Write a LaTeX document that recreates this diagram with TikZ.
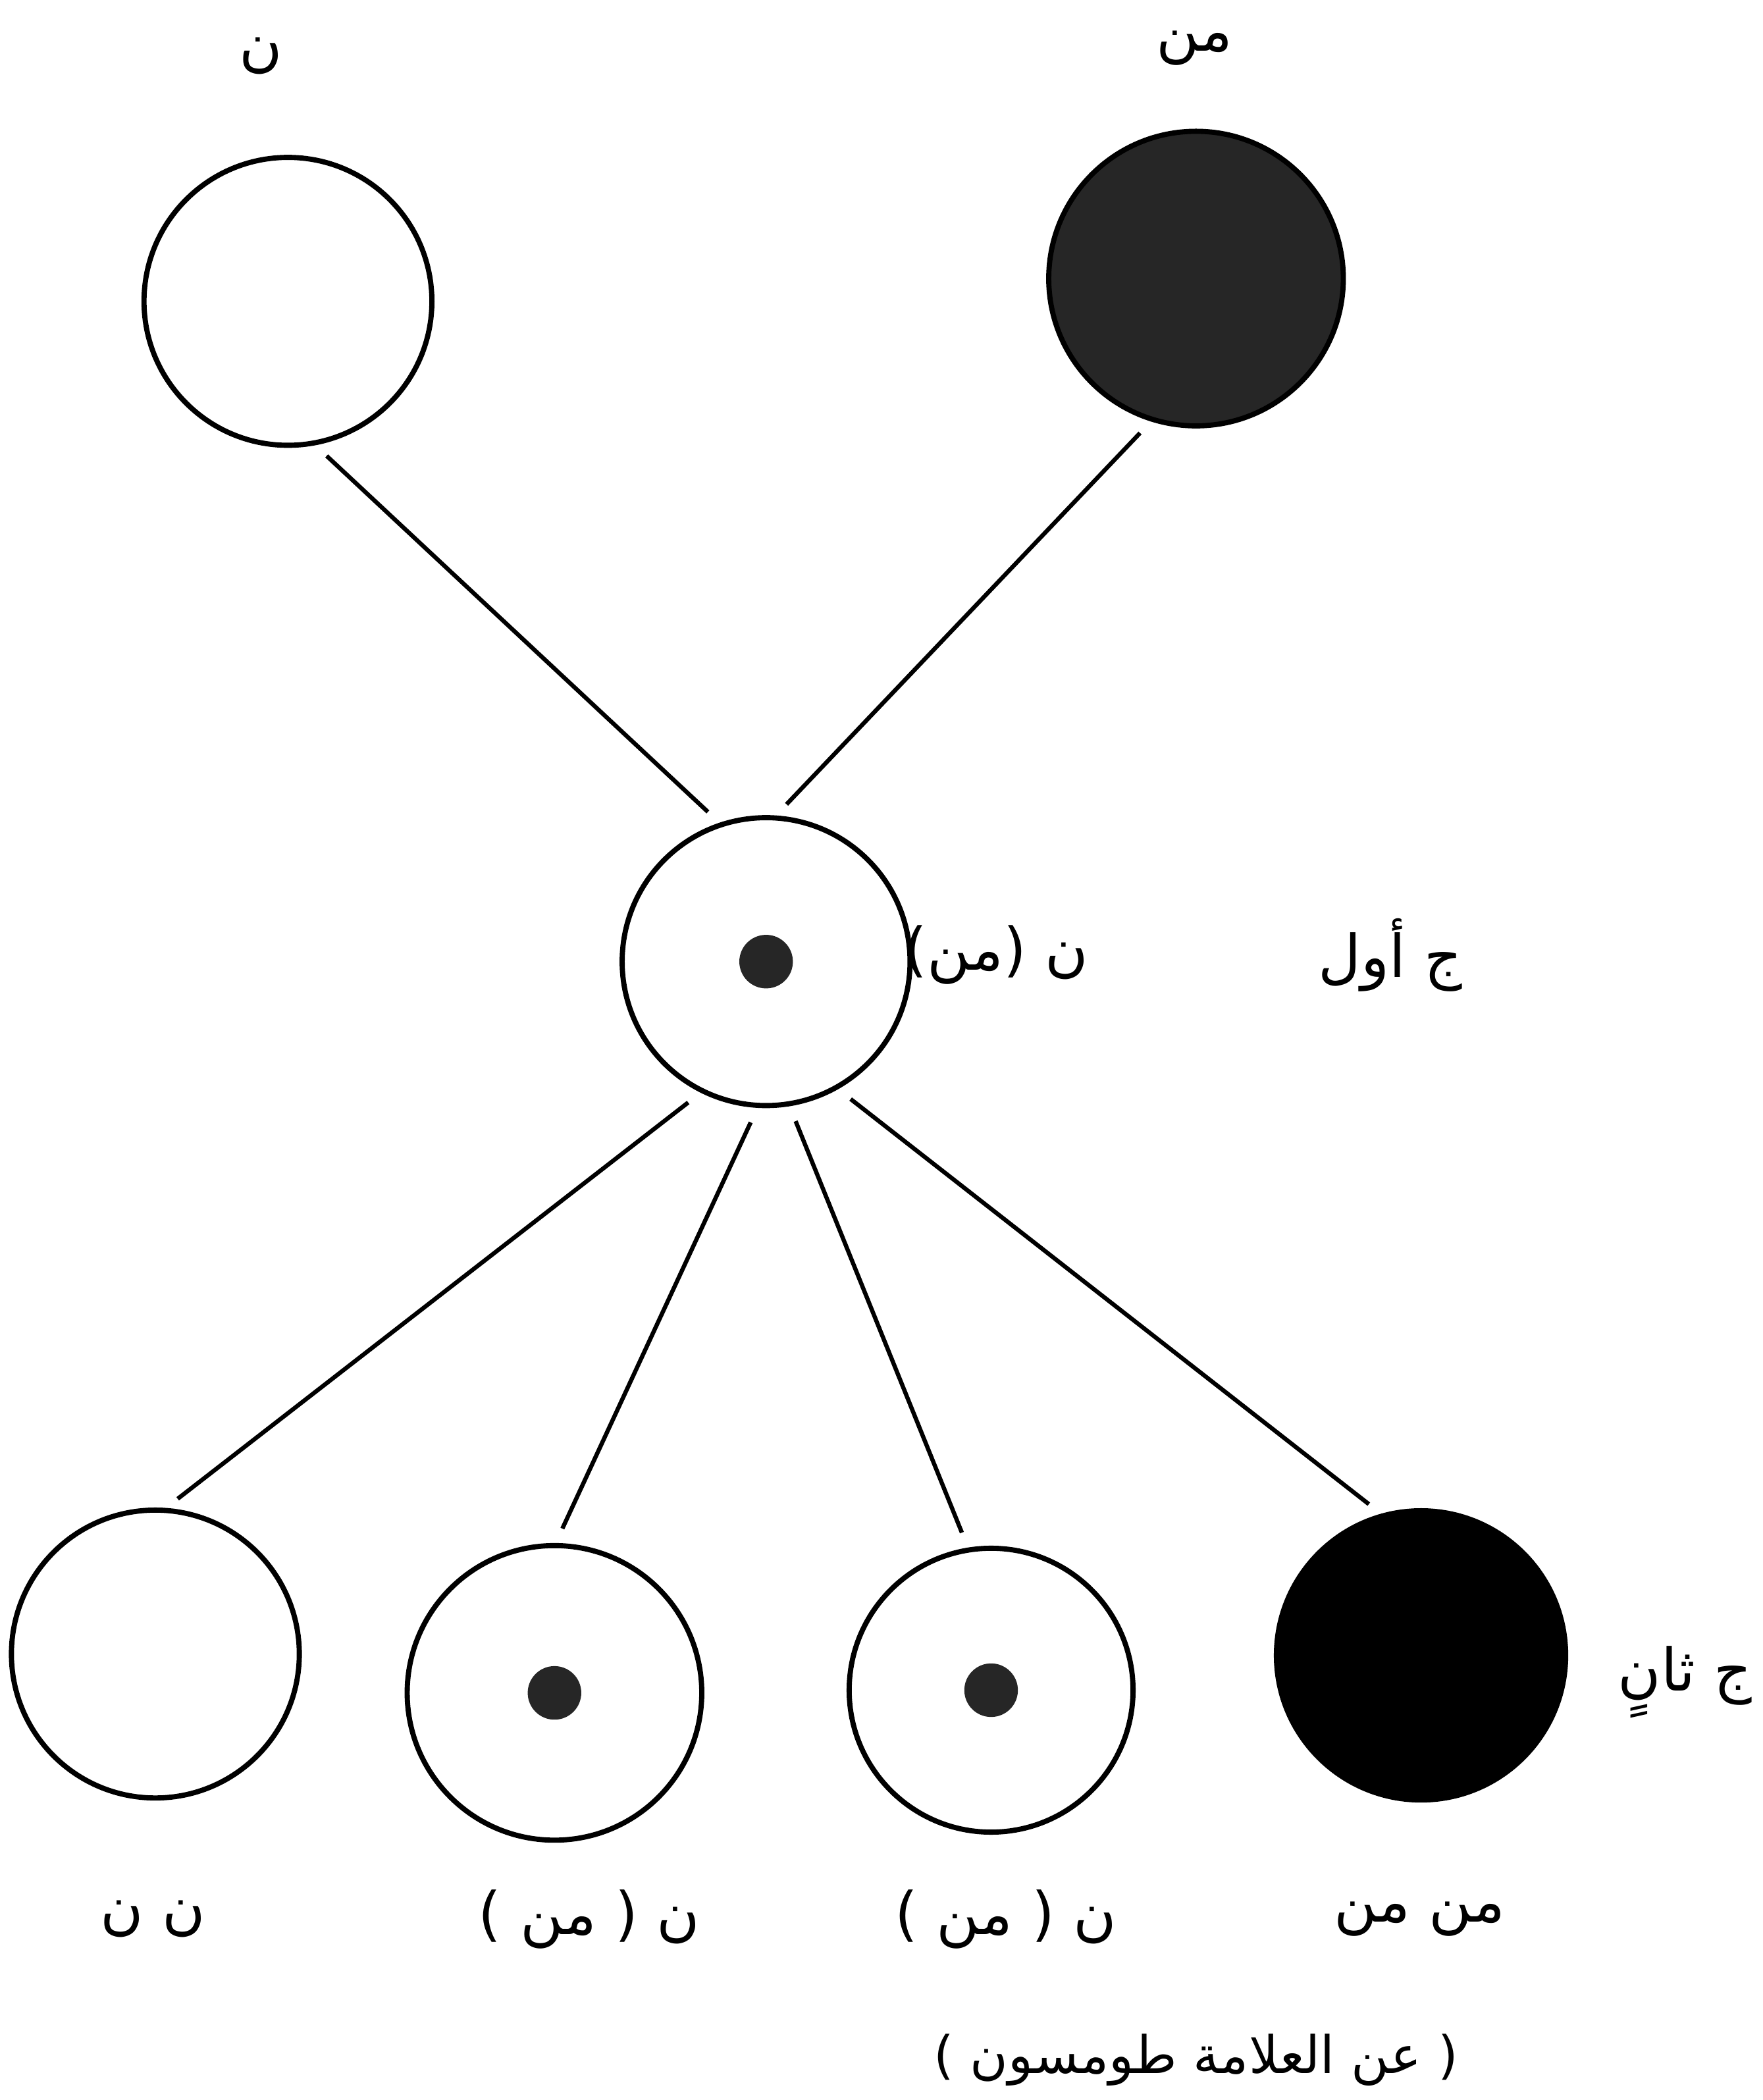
\documentclass[tikz,border=0pt]{standalone}
\usepackage{fontspec}
\newfontfamily\arabicfont[Script=Arabic]{DejaVu Sans}
\TeXXeTstate=1

\begin{document}
\begin{tikzpicture}[
    x = 0.02cm,
    y = -0.02cm,
    cell/.style = {circle, draw=black, line width=2.2pt, minimum size=4.3cm,
              inner sep=0pt, outer sep=0pt},
    core/.style = {circle, fill=black!85, minimum size=0.8cm,
              inner sep=0pt, outer sep=0pt},
    link/.style = {black, line width=1.8pt, shorten <=0.28cm, shorten >=0.28cm},
    lbl/.style = {font=\arabicfont\fontsize{25}{30}\selectfont, inner sep=0pt},
    ]

\useasboundingbox (0,0) rectangle (1316,1568);

% parents
\node[cell] (parent_n) at (215,225){};
\node[cell, fill=black!85, minimum size=4.4cm] (parent_mn) at (893,208){};
\node[lbl] (lbl_parent_n) at (195,42){\beginR ن\endR};
\node[lbl] (lbl_parent_mn) at (892,36){\beginR من\endR};

% first generation
\node[cell] (gen_1) at (572,718){};
\node[core] (gen_1_core) at (gen_1){};
\node[lbl] (lbl_gen_1) at (744,713){\beginR ن (من)\endR};
\node[lbl] (lbl_first) at (1038,713){\beginR ج أول\endR};

% second generation
\node[cell] (child_1) at (116,1235){};
\node[cell, minimum size=4.4cm] (child_2) at (414,1264){};
\node[core] (child_2_core) at (child_2){};
\node[cell, minimum size=4.24cm] (child_3) at (740,1262){};
\node[core] (child_3_core) at (child_3){};
\node[cell, fill=black, minimum size=4.32cm] (child_4) at (1061,1236){};
\node[lbl] (lbl_second) at (1258,1256){\beginR ج ثانٍ\endR};

\node[lbl] (lbl_child_1) at (114,1433){\beginR ن ن\endR};
\node[lbl] (lbl_child_2) at (440,1433){\beginR ن ( من )\endR};
\node[lbl] (lbl_child_3) at (751,1433){\beginR ن ( من )\endR};
\node[lbl] (lbl_child_4) at (1060,1433){\beginR من من\endR};
\node[lbl, font=\arabicfont\fontsize{22}{26}\selectfont] (lbl_source) at (893,1538){\beginR ( عن العلامة طومسون )\endR};

\draw [link] (parent_n.-80) -- (gen_1.108);
\draw [link] (parent_mn.-107) -- (gen_1.87);
\draw [link] (gen_1.-116) -- (child_1.87);
\draw [link] (gen_1.-93) -- (child_2.90);
\draw [link] (gen_1.-81) -- (child_3.99);
\draw [link] (gen_1.-61) -- (child_4.105);

\end{tikzpicture}
\end{document}
